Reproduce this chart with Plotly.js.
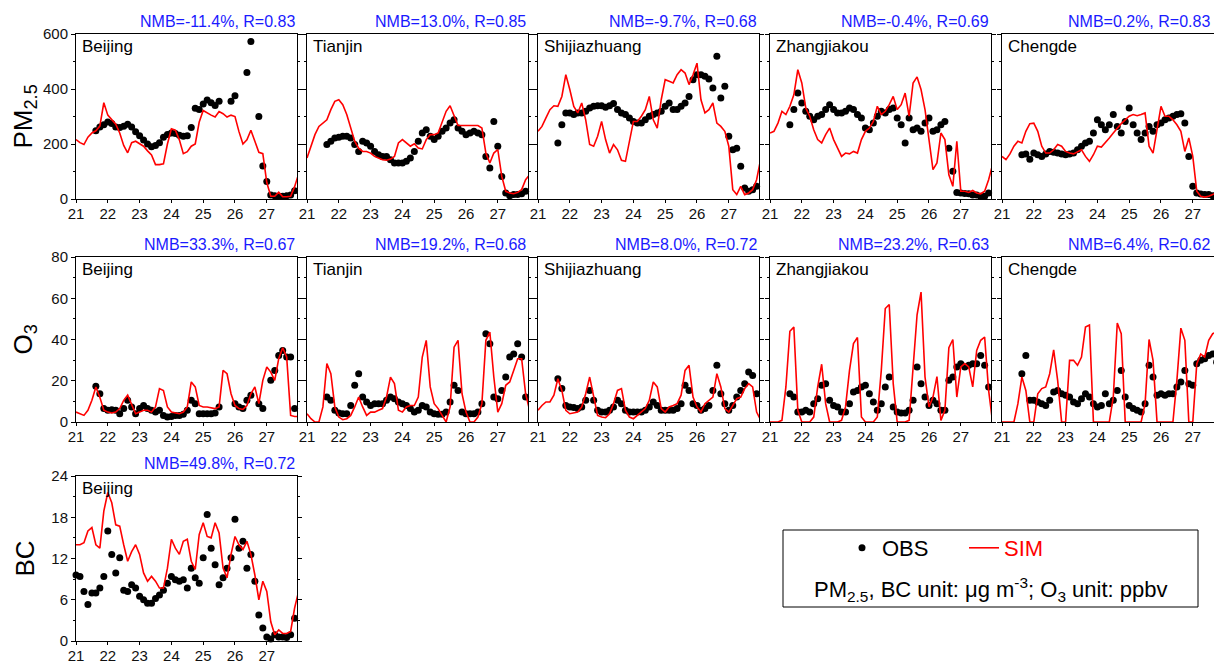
<!DOCTYPE html>
<html><head><meta charset="utf-8">
<script src="https://cdn.plot.ly/plotly-3.0.1.min.js"></script>
<style>html,body{margin:0;padding:0;overflow:hidden;background:#fff}</style>
</head><body><div id="chart"></div>
<script>
// ---------- DATA ----------
const simStart = 21.0, obsStart = 21.625, bcObsStart = 21.0, stepDays = 0.125; // 3-hourly
const dayTicks = [21,22,23,24,25,26,27];
const cities = ['Beijing','Tianjin','Shijiazhuang','Zhangjiakou','Chengde'];
const pmStats = ['NMB=-11.4%, R=0.83','NMB=13.0%, R=0.85','NMB=-9.7%, R=0.68','NMB=-0.4%, R=0.69','NMB=0.2%, R=0.83'];
const o3Stats = ['NMB=33.3%, R=0.67','NMB=19.2%, R=0.68','NMB=8.0%, R=0.72','NMB=23.2%, R=0.63','NMB=6.4%, R=0.62'];
const bcStats = ['NMB=49.8%, R=0.72'];

// PM2.5 (ug m-3)
const pm_sim_beijing = [216,205,198,225,240,248,265,350, 305,290,272,240,195,168,205,210, 200,192,175,160,125,125,128,200, 255,250,215,165,172,192,200,280, 322,312,305,298,318,310,298,305, 300,245,200,215,250,210,170,165, 60,10,10,25,8,8,10,45, 90];
const pm_obs_beijing = [248,262,270, 280,275,262,260,265,272,262,245, 230,215,200,190,195,205,225,235, 240,238,232,228,230,260,330,325, 345,360,350,340,355,null,null,355, 375,null,null,460,573,null,300,120, 64,15,12,10,10,12,15,30];
const pm_sim_tianjin = [149,192,234,264,276,288,325,355, 361,343,307,258,210,185,173,173, 167,155,149,143,141,145,155,204, 216,204,192,201,185,182,216,234, 234,240,276,319,339,300,267,267, 267,267,267,267,258,167,131,167, 180,82,28,22,19,24,34,70, 88];
const pm_obs_tianjin = [198,210,222, 225,228,228,222,198,173,210,204, 192,173,161,155,155,143,131,131, 131,137,149,173,210,240,252,228, 216,228,246,258,276,288,258,246, 234,240,246,240,234,155,113,282, 192,82,22,12,16,16,19,28];
const pm_sim_shijiazhuang = [246,264,295,325,339,337,373,452, 398,337,313,349,288,198,192,228, 282,216,167,198,179,141,137,216, 282,282,301,325,373,288,258,361, 434,428,422,452,470,458,416,452, 494,361,313,325,349,276,264,246, 192,34,16,46,16,22,34,70, 143];
const pm_obs_shijiazhuang = [204,270,313, 313,307,313,313,319,331,337,339, 339,334,339,347,325,313,307,295, 282,276,276,288,301,307,313,319, 337,349,325,325,337,349,373,434, 452,452,446,436,404,519,367,410, 228,179,185,119,40,28,34,46];
const pm_sim_zhangjiakou = [240,246,276,319,307,337,379,470, 422,331,301,252,216,204,234,258, 216,185,155,167,164,173,167,216, 246,258,282,337,307,319,343,373, 325,343,385,301,422,444,398,325, 216,107,131,240,216,88,46,210, 28,28,24,31,22,19,28,70, 125];
const pm_obs_zhangjiakou = [270,325,385, 349,319,301,288,301,307,325,343, 325,313,313,319,331,325,307,295, 258,252,276,301,319,313,325,331, 295,270,204,295,252,258,246,276, 295,246,252,270,282,185,101,24, 22,20,19,15,15,10,10,22];
const pm_sim_chengde = [155,143,164,192,210,204,246,274, 276,246,192,167,167,179,198,192, 173,167,164,173,179,155,137,161, 192,189,204,222,240,258,274,288, 301,307,303,307,313,192,167,252, 337,301,301,288,270,246,173,222, 155,28,10,7,10,16,22,30, 40];
const pm_obs_chengde = [161,164,145, 167,161,155,164,173,170,167,164, 161,164,167,179,192,204,210,240, 288,270,252,270,307,264,240,282, 331,270,240,216,240,264,246,270, 276,288,295,301,307,310,276,155, 46,22,18,16,16,12,14,16];

// O3 (ppbv)
const o3_sim_beijing = [4.8,4.0,3.2,5.7,10.5,17,12,5.7, 4.8,4.4,4.8,6.5,10.5,13,8.9,4, 4.8,5.7,5.7,4.8,7.3,16.2,15.3,7.3, 4.8,4.4,4,4.8,7.3,19.4,17,8, 7.3,7.3,7,6.5,7.3,25,23.4,13.7, 8,6.5,6.1,8,13.7,17,8.9,20.2, 26.7,24.2,20.2,30.7,36,31.5,3.2,2.7, 2.7];
const o3_obs_beijing = [17.3,13.7,6.5, 5.7,6,5.7,4,6.5,10.5,7.3,4, 6.5,8,6.5,5.7,4.8,5.7,3.2,2.4, 2.7,3.2,3.2,3.7,5.7,10.5,8.9,4, 4,4,4,4.4,7.3,null,null,null, 8.9,7.3,6.5,10.5,13,null,8.9,6.5, null,20.2,25,32.3,34.7,31.5,31.5,6.5];
const o3_sim_tianjin = [4,1.6,0,0,7.3,28.3,23.4,7.3, 2.4,1.1,1.6,3.2,7.3,12.1,7.3,3.2, 4.8,4.8,5.7,6.5,12.1,21.8,18.6,5.7, 4.8,7.3,8,8,12.1,31.5,39.6,17, 8.9,6.5,3.2,0,7.3,36.3,39.6,13.7, 4.8,0,0,2.4,8.9,39.6,43.6,21.8, 4.8,8.9,17.8,19.4,25,30.7,30.7,13.7, 5.7];
const o3_obs_tianjin = [12.1,10.5,5.7, 4.4,4,4,8,17.8,23.4,12.1,9.7, 8,8.9,8.9,8.9,10.5,12.1,11.3,9.7, 8.9,8,6.5,4.8,5.7,8,7.3,4.8, 4,3.7,3.7,4.8,9.7,17.8,15.3,4.8, 4,4,4,4.8,8.9,42.8,38,12.1, 11.3,15.3,21.8,31.5,33,38,31.5,12.1];
const o3_sim_shijiazhuang = [5.7,8,9.7,9.7,13,21,15.3,5.7, 4,4.4,4.8,7.3,13.7,21.8,12.1,3.2, 2.4,2.1,4,8.9,15.3,16.2,5.7,2.4, 1.6,3.2,4.8,6.5,10.5,19.4,17,6.5, 4.8,7.3,8,8.9,13,25,27.5,12.1, 7.3,4.8,8.9,10.5,12.1,23.4,17,6.5, 4.8,8,11.3,12.1,16.2,18.6,17,4.8, 1.1];
const o3_obs_shijiazhuang = [21,16.2,8, 7.3,7,6.5,7.3,10.5,15.3,10.5,5.7, 4.8,4.8,5.7,7.3,10.5,8.9,5.7,4.8, 4.8,4.8,4.8,5.7,7.3,9.7,8,5.7, 5.7,5.7,5.7,6.5,8.9,17.8,15.3,8.9, 8,5.7,6.5,8,15.3,27.5,13.7,8.9, 5.7,8,12.1,15.3,18.6,24.2,22.6,13.7];
const o3_sim_zhangjiakou = [0,0,0,0.8,17,44,46,5.7, 0,0,0,2.4,17,28,8.9,0, 0,0,0.8,7.3,25,38,41,2.4, 0,0,0,2.4,25,55,57,18.6, 0,0,0,0.8,25,52,63,21.8, 7.3,12.1,22,0.8,5.7,36,40,12.1, 26.7,28.3,26.7,17,34.7,39.6,41.2,15.3, 0];
const o3_obs_zhangjiakou = [13.7,12.1,4.8, 4.8,5.7,4.8,8.9,11.3,17.8,18.6,10.5, 8,7.3,4.8,4.8,8.9,14.5,15.3,17, 17.8,13.7,9.7,5.7,8.9,17,21.8,7.3, 4.8,4.4,4.4,5.7,10.5,26.7,18.6,12.1, 8,10.5,8.9,5.7,5.7,20.2,21.8,26.7, 28.3,26.7,27.5,28.3,28.3,32.3,27.5,17];
const o3_sim_chengde = [0,0,0,0,8.9,21.8,15.3,0, 0,13.7,16.2,17,23.4,35,20.2,0, 0,29.9,29.9,27.5,31.5,46,47,0, 0,0,0,0,12.1,48,42.8,0, 0,0,0,0,8.9,40,29.9,0, 0,0,0,0,20.2,45.5,39.6,0, 0,28.3,33,31.5,39.6,42.8,43.6,43.6, 41];
const o3_obs_chengde = [23.4,32.3,10.5, 10.5,9.7,8.9,8,10.5,14.5,15.3,13.7, 13,12.1,9.7,8.9,11.3,13.7,12.1,8.9, 7.3,8,13.7,8.9,10.5,15.3,25,12.1, 8,6.5,5.7,4.8,8.9,27.5,21.8,13, 13.7,13,13.7,13.7,17,19.4,25,18.6, 17.8,28.3,29.9,30.7,32.3,33,29,27];

// BC (ug m-3)
const bc_sim_beijing = [14,14,14.3,16,16.5,14,13.5,18.9, 21.6,20.1,16.9,16.7,14,11.6,13,14, 12.6,9.9,8.7,9.4,8.7,7.7,7.7,10.6, 14.8,13.5,12.6,14.5,14.8,11.6,10.4,15.5, 17.2,15.2,15,17.2,15.7,10.6,9.2,12.6, 15.2,14,13.3,14.5,12.6,9.6,6,8.7, 7.2,2.8,0.9,1.6,1.1,1.1,1.4,4.8, 7.2];
const bc_obs_beijing = [9.6,9.4,7.2,5.3,7,7,7.7,9.4, 16,12.6,9.9,12.1,7.4,7.2,8.2,7.7, 6.5,6,5.5,5.5,6.2,6.7,7.4,8.4, 9.4,8.9,8.7,8.9,7.7,10.6,9.2,8.4, 12.1,18.4,13.5,11.1,8.2,9.2,10.6,12.1, 17.7,13.5,14.5,10.6,12.6,8.7,3.8,1.9, 0.6,0.3,0.9,0.6,0.6,0.5,0.9,3.3];

// ---------- LAYOUT GEOMETRY ----------
const W = 1232, H = 663, VIEW_W = 1214;
const colLeft = [76, 307, 538, 770, 1002];
const panelW = 221, panelH = 165;
const rowTop = [34, 257, 476];
const FONT = 'Arial, "Liberation Sans", sans-serif';

const rows = [
  {label:'PM<sub>2.5</sub>', range:[0,600], dtick:200, minor:100,
   sims:[pm_sim_beijing,pm_sim_tianjin,pm_sim_shijiazhuang,pm_sim_zhangjiakou,pm_sim_chengde],
   obs:[pm_obs_beijing,pm_obs_tianjin,pm_obs_shijiazhuang,pm_obs_zhangjiakou,pm_obs_chengde],
   obsStart:obsStart, stats:pmStats},
  {label:'O<sub>3</sub>', range:[0,80], dtick:20, minor:10,
   sims:[o3_sim_beijing,o3_sim_tianjin,o3_sim_shijiazhuang,o3_sim_zhangjiakou,o3_sim_chengde],
   obs:[o3_obs_beijing,o3_obs_tianjin,o3_obs_shijiazhuang,o3_obs_zhangjiakou,o3_obs_chengde],
   obsStart:obsStart, stats:o3Stats},
  {label:'BC', range:[0,24], dtick:6, minor:3,
   sims:[bc_sim_beijing], obs:[bc_obs_beijing], obsStart:bcObsStart, stats:bcStats}
];

function times(start, n){ const t=[]; for(let i=0;i<n;i++) t.push(start + i*stepDays); return t; }

const traces = [];
const layout = {
  width: W, height: H, margin:{l:0,r:0,t:0,b:0},
  paper_bgcolor:'#fff', plot_bgcolor:'#fff',
  font:{family:FONT, color:'#111'},
  annotations: [], shapes: [],
  legend:{x:842/W, xanchor:'left', y:1-548/H, yanchor:'middle', orientation:'h',
          font:{size:22, color:'#000', family:FONT}, bgcolor:'rgba(0,0,0,0)', borderwidth:0},
  legend2:{x:964/W, xanchor:'left', y:1-548/H, yanchor:'middle', orientation:'h',
          font:{size:22, color:'#ff0000', family:FONT}, bgcolor:'rgba(0,0,0,0)', borderwidth:0}
};

let k = 0;
rows.forEach((row, r) => {
  const top = rowTop[r];
  const yd = [1-(top+panelH)/H, 1-top/H];
  layout.annotations.push({xref:'paper', yref:'paper', x:24/W, y:1-(top+panelH/2)/H,
    text:row.label, textangle:-90, showarrow:false, xanchor:'center', yanchor:'middle',
    font:{size:26, color:'#000', family:FONT}});
  row.sims.forEach((sim, c) => {
    k++;
    const xs = k===1 ? '' : String(k);
    const left = colLeft[c];
    layout['xaxis'+xs] = {domain:[left/W, (left+panelW)/W], anchor:'y'+xs, range:[21,27.95],
      tickvals:dayTicks, ticktext:dayTicks.map(String), ticks:'outside', ticklen:3, tickcolor:'#000',
      ticklabelstandoff:-2,
      showline:true, linecolor:'#000', linewidth:1, mirror:true, showgrid:false, zeroline:false,
      tickfont:{size:15, color:'#111'}, automargin:false, fixedrange:true};
    layout['yaxis'+xs] = {domain:yd, anchor:'x'+xs, range:row.range, dtick:row.dtick, tick0:0,
      ticks:'outside', ticklen:4, tickcolor:'#000', showline:true, linecolor:'#000', linewidth:1,
      mirror:'ticks', showgrid:false, zeroline:false, showticklabels:c===0,
      minor:{dtick:row.minor, ticks:'outside', ticklen:2, tickcolor:'#000'},
      tickfont:{size:15, color:'#111'}, automargin:false, fixedrange:true};
    const ob = row.obs[c];
    traces.push({type:'scatter', mode:'markers', name:'OBS', legend:'legend',
      x:times(row.obsStart, ob.length), y:ob, xaxis:'x'+xs, yaxis:'y'+xs,
      marker:{color:'#000', size:7}, cliponaxis:false, showlegend:k===1, hoverinfo:'skip'});
    traces.push({type:'scatter', mode:'lines', name:'SIM', legend:'legend2',
      x:times(simStart, sim.length), y:sim, xaxis:'x'+xs, yaxis:'y'+xs,
      line:{color:'#ff0000', width:1.6}, showlegend:k===1, hoverinfo:'skip'});
    layout.annotations.push({xref:'paper', yref:'paper', x:(left+4)/W, y:1-(top+1)/H,
      text:cities[c], showarrow:false, xanchor:'left', yanchor:'top',
      font:{size:17, color:'#000', family:FONT}});
    const statRight = Math.min(left+panelW, VIEW_W-2);
    layout.annotations.push({xref:'paper', yref:'paper', x:statRight/W, y:1-(top-13)/H,
      text:row.stats[c], showarrow:false, xanchor:'right', yanchor:'middle',
      font:{size:16, color:'#1a1aff', family:FONT}});
  });
});

// legend frame + unit note
layout.shapes.push({type:'rect', xref:'paper', yref:'paper', x0:783/W, x1:1198/W, y0:1-607/H, y1:1-530/H,
  line:{color:'#000', width:1}, fillcolor:'rgba(0,0,0,0)'});
layout.annotations.push({xref:'paper', yref:'paper', x:990/W, y:1-589/H, showarrow:false,
  xanchor:'center', yanchor:'middle',
  text:'PM<sub>2.5</sub>, BC unit: μg m<sup>-3</sup>; O<sub>3</sub> unit: ppbv',
  font:{size:22, color:'#000', family:FONT}});

Plotly.newPlot('chart', traces, layout, {displayModeBar:false, staticPlot:true});
</script>
</body></html>
